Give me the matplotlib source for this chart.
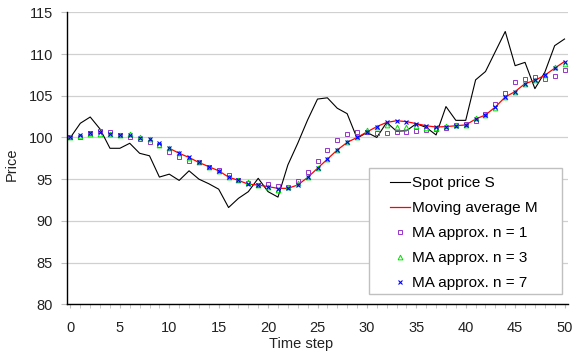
import matplotlib
matplotlib.use("Agg")
import matplotlib.pyplot as plt
from matplotlib.patches import Rectangle
import numpy as np

plt.rcParams['font.family'] = ['Liberation Sans', 'DejaVu Sans']

# time steps
t = list(range(51))

# spot price S
spot = [100.0, 101.7, 102.45, 101.0, 98.7, 98.7, 99.3, 98.1, 97.8, 95.25,
        95.6, 94.85, 96.0, 95.0, 94.45, 93.8, 91.6, 92.7, 93.5, 95.1,
        93.5, 92.85, 96.7, 99.3, 102.1, 104.6, 104.75, 103.5, 102.85, 99.9,
        100.6, 100.0, 101.8, 100.75, 100.8, 101.65, 101.2, 100.3, 103.7, 102.05,
        102.05, 106.9, 107.9, 110.3, 112.7, 108.6, 109.0, 105.85, 107.8, 111.0,
        111.8]

# moving average M (starts at t = 10)
ma_t = list(range(10, 51))
ma = [98.7, 98.1, 97.6, 97.0, 96.5, 96.0, 95.25, 94.85, 94.4, 94.3,
      94.1, 93.9, 93.9, 94.3, 95.2, 96.3, 97.4, 98.5, 99.4, 100.0,
      100.65, 101.3, 101.8, 102.0, 101.9, 101.65, 101.4, 101.25, 101.3, 101.4,
      101.5, 102.2, 102.7, 103.65, 104.85, 105.5, 106.45, 106.85, 107.45, 108.3,
      109.1]

# MA approximations
approx_n1 = [100.0, 100.1, 100.5, 100.75, 100.6, 100.35, 100.05, 99.85, 99.45, 99.1,
             98.3, 97.7, 97.2, 97.0, 96.5, 96.1, 95.5, 94.9, 94.5, 94.3,
             94.45, 94.2, 94.0, 94.8, 95.8, 97.15, 98.5, 99.75, 100.45, 100.7,
             100.6, 100.5, 100.5, 100.65, 100.65, 100.8, 100.95, 101.0, 101.1, 101.45,
             101.6, 102.0, 102.8, 104.05, 105.35, 106.6, 107.0, 107.2, 107.05, 107.4,
             108.1]
approx_n3 = [100.0, 100.2, 100.45, 100.4, 100.45, 100.35, 100.45, 100.0, 99.8, 99.1,
             98.7, 98.1, 97.55, 97.0, 96.5, 96.0, 95.25, 94.9, 94.6, 94.35,
             94.0, 93.7, 94.0, 94.5, 95.2, 96.3, 97.4, 98.5, 99.5, 100.1,
             100.9, 101.3, 101.5, 101.3, 101.25, 101.35, 101.1, 101.1, 101.4, 101.45,
             101.45, 102.3, 102.7, 103.55, 104.85, 105.5, 106.4, 106.9, 107.5, 108.4,
             108.8]
approx_n7 = [100.0, 100.25, 100.5, 100.65, 100.4, 100.35, 100.25, 99.95, 99.8, 99.3,
             98.7, 98.1, 97.6, 97.0, 96.5, 96.0, 95.25, 94.85, 94.4, 94.3,
             94.1, 93.8, 93.9, 94.3, 95.2, 96.3, 97.4, 98.5, 99.4, 100.0,
             100.65, 101.3, 101.8, 102.0, 101.9, 101.65, 101.4, 101.2, 101.25, 101.4,
             101.5, 102.2, 102.7, 103.65, 104.85, 105.5, 106.45, 106.85, 107.45, 108.3,
             109.1]

labels = ['Spot price S', 'Moving average M', 'MA approx. n = 1',
          'MA approx. n = 3', 'MA approx. n = 7']

fig = plt.figure(figsize=(5.72, 3.53), dpi=100)
ax = fig.add_axes([67 / 572, 1 - 304.3 / 353, 501 / 572, 292 / 353])

ax.plot(t, spot, color='black', lw=0.8, label=labels[0])
ax.plot(ma_t, ma, color='#ff0000', lw=0.9, label=labels[1])
ax.plot(t, approx_n1, ls='none', marker='s', ms=3.5, mfc='none', mec='#9933cc',
        mew=0.7, label=labels[2])
ax.plot(t, approx_n3, ls='none', marker='^', ms=3.4, mfc='none', mec='#00e000',
        mew=0.7, label=labels[3])
ax.plot(t, approx_n7, ls='none', marker='x', ms=3.0, mec='#0000ff',
        mew=0.8, label=labels[4])

ax.set_xlim(-0.35, 50.35)
ax.set_ylim(80, 115)
ax.set_xticks(range(0, 51, 5))
ax.set_xticks(range(0, 51), minor=True)
ax.set_yticks(range(80, 116, 5))
ax.yaxis.grid(True, color='#d0d0d0', lw=0.9)
ax.set_axisbelow(True)

for s in ['top', 'right']:
    ax.spines[s].set_visible(False)
for s in ['left', 'bottom']:
    ax.spines[s].set_color('black')
    ax.spines[s].set_linewidth(1.0)

ax.tick_params(axis='both', which='both', color='#c0c0c0', labelsize=10.5,
               labelcolor='#222222')
ax.tick_params(axis='x', which='major', length=3, pad=9)
ax.tick_params(axis='x', which='minor', length=3)
ax.tick_params(axis='y', length=4, pad=6)

ax.set_xlabel('Time step', fontsize=10.5, color='#222222')
ax.set_ylabel('Price', fontsize=10.5, color='#222222')
ax.xaxis.set_label_coords(0.467, -0.113)
ax.yaxis.set_label_coords(-0.096, 0.48)

# legend frame drawn separately so the padding can match
frame = Rectangle((0.603, 0.035), 0.385, 0.432, transform=ax.transAxes,
                  facecolor='white', edgecolor='#c0c0c0', lw=1.0, zorder=4)
ax.add_patch(frame)
leg = ax.legend(loc='upper left', bbox_to_anchor=(0.645, 0.438), frameon=False,
                fontsize=11, handlelength=1.3, handletextpad=0.1,
                labelspacing=0.72, borderpad=0, borderaxespad=0, numpoints=1)
leg.set_zorder(5)

fig.savefig('out.png', dpi=100)
